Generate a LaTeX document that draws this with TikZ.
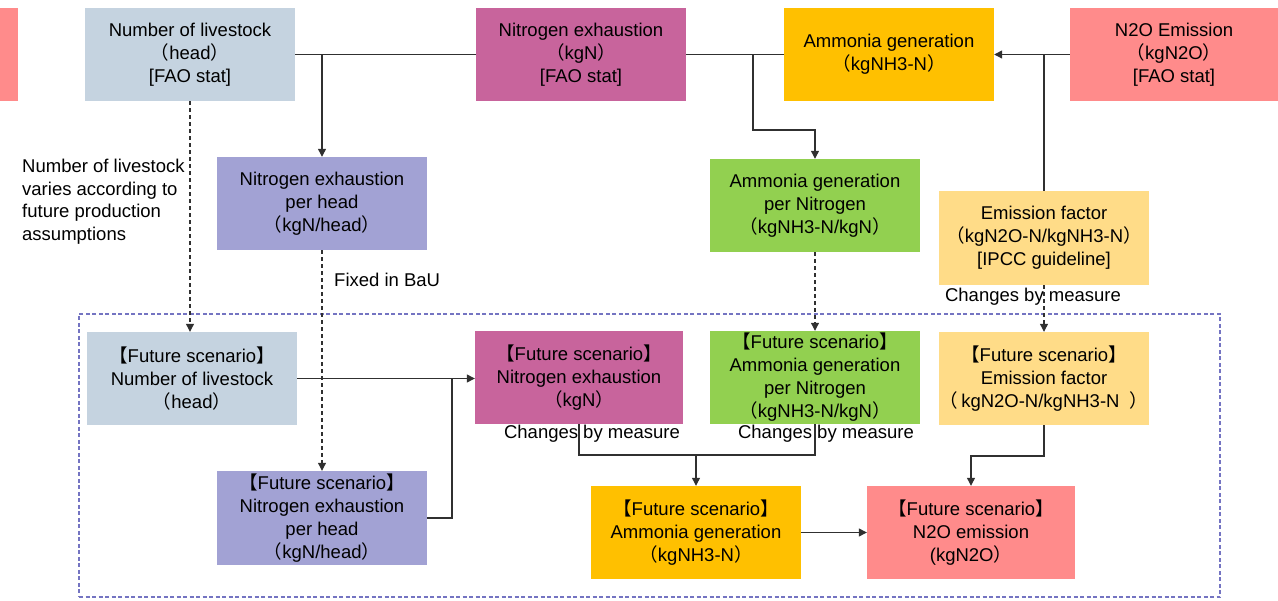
\documentclass[tikz,border=0pt]{standalone}
\usepackage{fontspec}
\setmainfont{Liberation Sans}
\newfontfamily\cjkf{Noto Sans CJK SC}
\usetikzlibrary{arrows.meta}
\newcommand{\zlp}{{\cjkf （}}
\newcommand{\zrp}{{\cjkf ）}}
\newcommand{\zlb}{{\cjkf 【}}
\newcommand{\zrb}{{\cjkf 】}}
\definecolor{cgray}{HTML}{C5D3E0}
\definecolor{cmag}{HTML}{C8649C}
\definecolor{corange}{HTML}{FFC000}
\definecolor{cpink}{HTML}{FF8B8B}
\definecolor{clav}{HTML}{A2A2D4}
\definecolor{cgreen}{HTML}{92D050}
\definecolor{cgold}{HTML}{FFDC88}
\definecolor{cframe}{HTML}{7474C2}
\definecolor{cline}{HTML}{303030}
\tikzset{
  box/.style={inner sep=0pt, align=center, minimum width=210pt, minimum height=93pt,
    font=\fontsize{18.5}{23}\selectfont, text=black},
  lbl/.style={inner sep=0pt, font=\fontsize{18.5}{22.5}\selectfont, text=black},
  conn/.style={draw=cline, line width=1.2pt},
  arr/.style={conn, -{Triangle[length=8pt,width=8pt]}},
  dconn/.style={draw=cline, line width=1.1pt, dash pattern=on 4pt off 3pt, -{Triangle[length=8pt,width=8pt]}},
}
\begin{document}
\begin{tikzpicture}[x=1pt,y=-1pt]
\useasboundingbox (0,0) rectangle (1278,601);
% frame
\node[draw=cframe, line width=1.1pt, dash pattern=on 4pt off 2.5pt, minimum width=1141pt, minimum height=283pt, inner sep=0pt] (frame) at (649.5,455.5) {};
% top row
\node[fill=cpink, minimum width=18pt, minimum height=93pt, inner sep=0pt] (p0) at (9,54.5) {};
\node[box, fill=cgray] (n1) at (190,54.5) {Number of livestock\\\zlp head\zrp\\{[}FAO stat{]}};
\node[box, fill=cmag] (n2) at (581,54.5) {Nitrogen exhaustion\\\zlp kgN\zrp\\{[}FAO stat{]}};
\node[box, fill=corange] (n3) at (889,54.5) {Ammonia generation\\\zlp kgNH3-N\zrp};
\node[box, fill=cpink, minimum width=208pt] (n4) at (1174,54.5) {N2O Emission\\\zlp kgN2O\zrp\\{[}FAO stat{]}};
% middle row
\node[box, fill=clav] (m1) at (322,203.5) {Nitrogen exhaustion\\per head\\\zlp kgN/head\zrp};
\node[box, fill=cgreen] (m2) at (815,205.5) {Ammonia generation\\per Nitrogen\\\zlp kgNH3-N/kgN\zrp};
\node[box, fill=cgold, minimum height=94pt] (m3) at (1044,238) {Emission factor\\\zlp kgN2O-N/kgNH3-N\zrp\\{[}IPCC guideline{]}};
% bottom
\node[box, fill=cgray] (f1) at (192,378.5) {\zlb Future scenario\zrb\\Number of livestock\\\zlp head\zrp};
\node[box, fill=clav, minimum height=94pt] (f2) at (322,518) {\zlb Future scenario\zrb\\Nitrogen exhaustion\\per head\\\zlp kgN/head\zrp};
\node[box, fill=cmag, minimum width=208pt] (f3) at (579,377.5) {\zlb Future scenario\zrb\\Nitrogen exhaustion\\\zlp kgN\zrp};
\node[box, fill=cgreen] (f4) at (815,377.5) {\zlb Future scenario\zrb\\Ammonia generation\\per Nitrogen\\\zlp kgNH3-N/kgN\zrp};
\node[box, fill=cgold] (f5) at (1044,378.5) {\zlb Future scenario\zrb\\Emission factor\\\zlp\,kgN2O-N/kgNH3-N\ \ \zrp};
\node[box, fill=corange] (f6) at (696,532.5) {\zlb Future scenario\zrb\\Ammonia generation\\\zlp kgNH3-N\zrp};
\node[box, fill=cpink, minimum width=208pt] (f7) at (971,532.5) {\zlb Future scenario\zrb\\N2O emission\\(kgN2O\zrp};
% labels
\node[lbl, anchor=west, align=left] (note1) at (22,201.5) {Number of livestock\\varies according to\\future production\\assumptions};
\node[lbl, anchor=west] (note2) at (334,280) {Fixed in BaU};
\node[lbl] (note3) at (1033,297) {Changes by measure};
\node[lbl] (note4) at (592,434) {Changes by measure};
\node[lbl] (note5) at (826,434) {Changes by measure};
% coordinates
\coordinate (j0) at (753,54.5);
\coordinate (j0b) at (753,130);
\coordinate (j2) at (452,378.5);
\coordinate (j3) at (696,455);
\coordinate (j4) at (1044,456);
% top connectors
\draw[conn] (n1.east) -- (n2.west);
\draw[conn] (n2.east) -- (n3.west);
\draw[arr] (n4.west) -- (n3.east);
\draw[conn] (m3.north) -- (m3.north |- n4.west);
\draw[arr] (m1.north |- n1.east) -- (m1.north);
\draw[arr] (j0) -- (j0b) -| (m2.north);
% dashed
\draw[dconn] (n1.south) -- (n1.south |- f1.north);
\draw[dconn] (m1.south) -- (f2.north);
\draw[dconn] (m2.south) -- (f4.north);
\draw[dconn] (m3.south) -- (f5.north);
% bottom connectors
\draw[arr] (f1.east) -- (f1.east -| f3.west);
\draw[conn] (f2.east) -| (j2);
\draw[conn] (f3.south) |- (j3) -| (f4.south);
\draw[arr] (j3) -- (f6.north);
\draw[arr] (f6.east) -- (f7.west);
\draw[arr] (f5.south) -- (j4) -| (f7.north);
\end{tikzpicture}
\end{document}
